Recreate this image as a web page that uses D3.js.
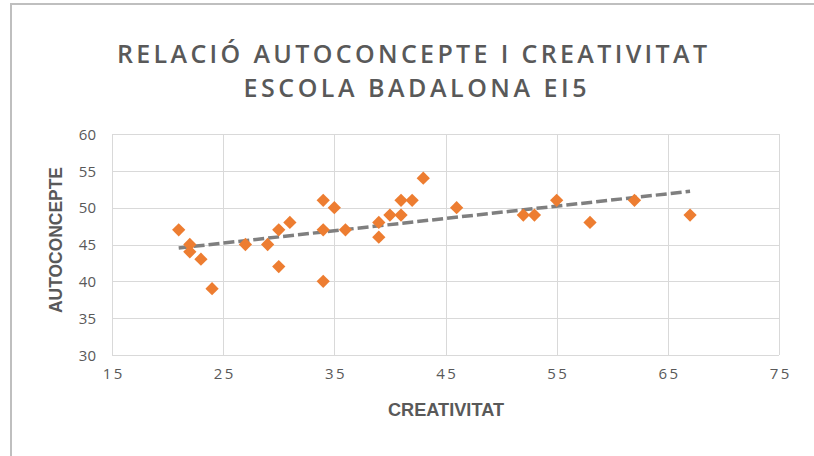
<!DOCTYPE html>
<html>
<head>
<meta charset="utf-8">
<script src="https://cdn.jsdelivr.net/npm/d3@7"></script>
<style>
  html, body { margin: 0; padding: 0; background: #fff; }
  svg { display: block; }
</style>
</head>
<body>
<div id="chart"></div>
<script>
// ---- data ----
const titleLines = ["RELACIÓ AUTOCONCEPTE I CREATIVITAT", "ESCOLA BADALONA EI5"];
const xLabel = "CREATIVITAT";
const yLabel = "AUTOCONCEPTE";
const creativitat = [21, 22, 22, 23, 24, 27, 29, 30, 30, 31, 34, 34, 34, 35, 36, 39, 39, 40, 41, 41, 42, 43, 46, 52, 53, 55, 58, 62, 67];
const autoconcepte = [47, 45, 44, 43, 39, 45, 45, 47, 42, 48, 51, 47, 40, 50, 47, 48, 46, 49, 49, 51, 51, 54, 50, 49, 49, 51, 48, 51, 49];
const xTicks = [15, 25, 35, 45, 55, 65, 75];
const yTicks = [30, 35, 40, 45, 50, 55, 60];

const W = 814, H = 456;
const svg = d3.select("#chart").append("svg").attr("width", W).attr("height", H);
svg.append("rect").attr("width", W).attr("height", H).attr("fill", "#fff");

// outer chart border (only top/left visible)
svg.append("rect").attr("x", 11).attr("y", 4).attr("width", 900).attr("height", 600)
  .attr("fill", "none").attr("stroke", "#bfbfbf").attr("stroke-width", 2);

const x = d3.scaleLinear().domain([15, 75]).range([112, 779]);
const y = d3.scaleLinear().domain([30, 60]).range([355, 134]);

const grid = "#d9d9d9";
// gridlines
svg.append("g").selectAll("line").data(xTicks).join("line")
  .attr("x1", d => Math.round(x(d)) + 0.5).attr("x2", d => Math.round(x(d)) + 0.5)
  .attr("y1", y(60)).attr("y2", y(30)).attr("stroke", grid).attr("stroke-width", 1);
svg.append("g").selectAll("line").data(yTicks).join("line")
  .attr("y1", d => Math.round(y(d)) + 0.5).attr("y2", d => Math.round(y(d)) + 0.5)
  .attr("x1", x(15)).attr("x2", x(75)).attr("stroke", grid).attr("stroke-width", 1);

// axes (labels only)
const font = "'Open Sans', 'Noto Sans', sans-serif";
const yAxis = svg.append("g").attr("transform", `translate(${x(15) - 16},0)`)
  .call(d3.axisLeft(y).tickValues(yTicks).tickSize(0).tickPadding(0));
yAxis.select(".domain").remove();
yAxis.selectAll("text").attr("font-family", font).attr("font-size", 15).attr("fill", "#595959").attr("dy", "0.35em");

const xAxis = svg.append("g").attr("transform", `translate(0,${y(30) + 13})`)
  .call(d3.axisBottom(x).tickValues(xTicks).tickSize(0).tickPadding(0));
xAxis.select(".domain").remove();
xAxis.selectAll("text").attr("font-family", font).attr("font-size", 15).attr("fill", "#595959")
  .attr("letter-spacing", 2.5).attr("dy", "0.71em").attr("dx", 1.2);

// trendline (least squares from data)
const n = creativitat.length;
const mx = d3.mean(creativitat), my = d3.mean(autoconcepte);
let sxy = 0, sxx = 0;
for (let i = 0; i < n; i++) { sxy += (creativitat[i] - mx) * (autoconcepte[i] - my); sxx += (creativitat[i] - mx) ** 2; }
const slope = sxy / sxx, intercept = my - slope * mx;
const x0 = d3.min(creativitat), x1 = d3.max(creativitat);
svg.append("line")
  .attr("x1", x(x0)).attr("y1", y(intercept + slope * x0))
  .attr("x2", x(x1)).attr("y2", y(intercept + slope * x1))
  .attr("stroke", "#7f7f7f").attr("stroke-width", 3.5).attr("stroke-dasharray", "11,4");

// markers
const pts = creativitat.map((c, i) => [c, autoconcepte[i]]);
const sym = d3.symbol().type(d3.symbolSquare).size(88);
svg.append("g").selectAll("path").data(pts).join("path")
  .attr("d", sym)
  .attr("transform", d => `translate(${x(d[0])},${y(d[1])}) rotate(45)`)
  .attr("fill", "#ed7d31");

// title
const tt = svg.append("g").attr("font-family", font).attr("font-weight", 600).attr("fill", "#595959");
tt.append("text").attr("x", 412).attr("y", 63).attr("text-anchor", "middle").attr("font-size", 25)
  .attr("textLength", 590).attr("lengthAdjust", "spacing").text(titleLines[0]);
tt.append("text").attr("x", 415).attr("y", 97).attr("text-anchor", "middle").attr("font-size", 25)
  .attr("textLength", 343).attr("lengthAdjust", "spacing").text(titleLines[1]);

// axis titles
svg.append("text").attr("x", 446).attr("y", 416).attr("text-anchor", "middle")
  .attr("font-family", "'Liberation Sans Narrow', 'Liberation Sans', Arial, sans-serif").attr("font-weight", 700)
  .attr("font-size", 18).attr("fill", "#595959")
  .attr("textLength", 116).attr("lengthAdjust", "spacingAndGlyphs").text(xLabel);
svg.append("text").attr("transform", "translate(62,240) rotate(-90)").attr("text-anchor", "middle")
  .attr("font-family", "'Liberation Sans Narrow', 'Liberation Sans', Arial, sans-serif").attr("font-weight", 700)
  .attr("font-size", 18).attr("fill", "#595959")
  .attr("textLength", 146).attr("lengthAdjust", "spacingAndGlyphs").text(yLabel);
</script>
</body>
</html>
